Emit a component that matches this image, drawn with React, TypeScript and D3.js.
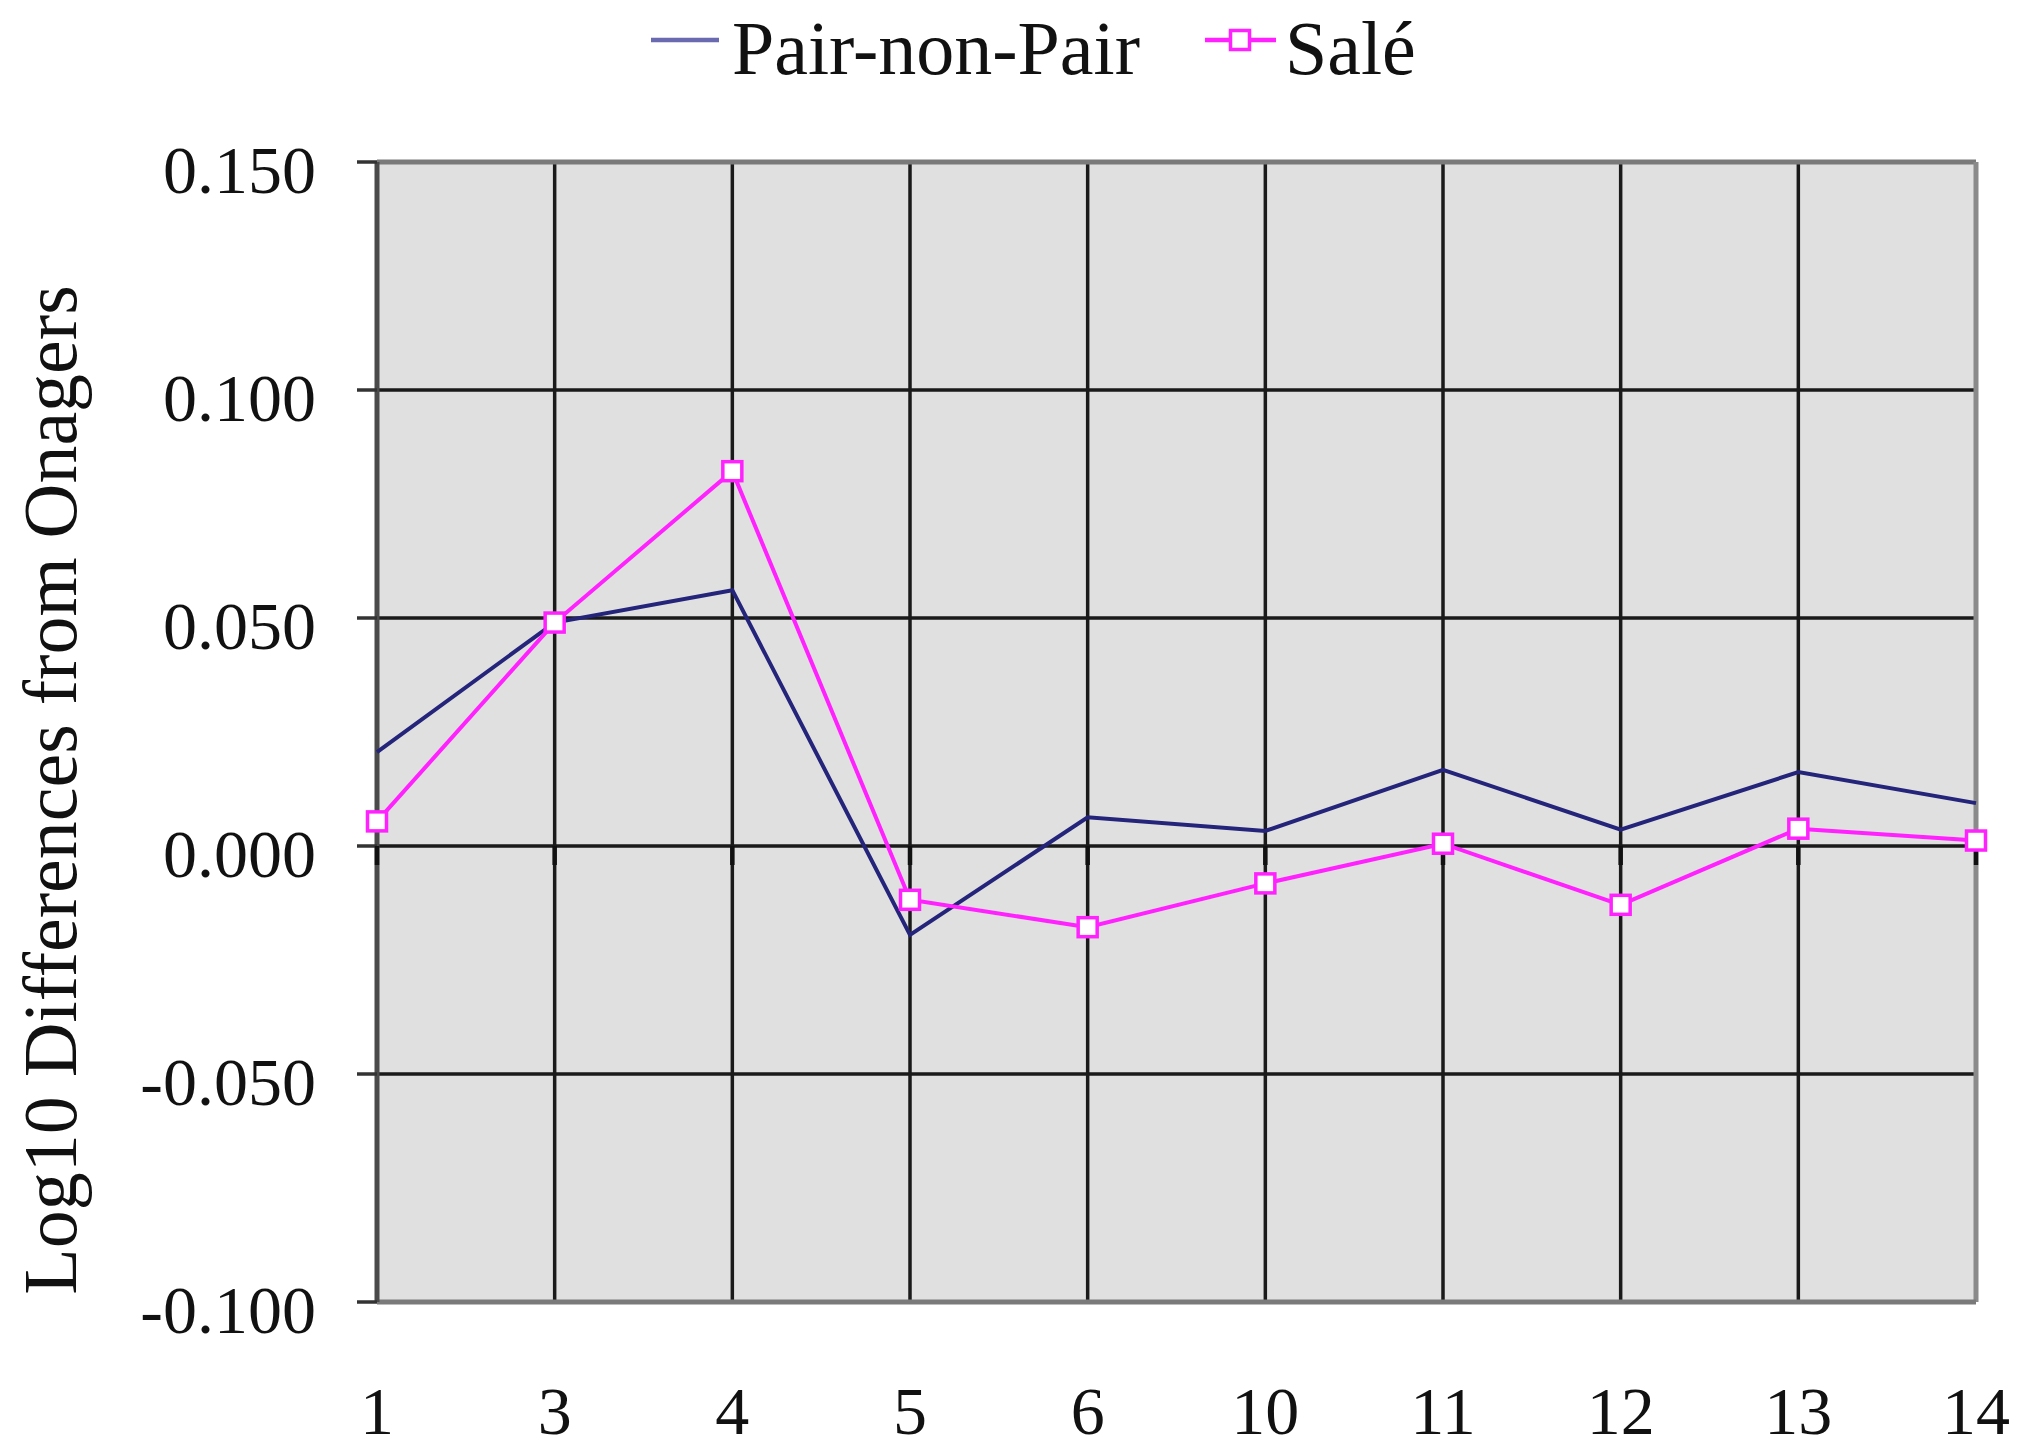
import React from "react";
import * as d3 from "d3";

const categories = ["1", "3", "4", "5", "6", "10", "11", "12", "13", "14"];
const pairNonPair = [0.0206, 0.0490, 0.0561, -0.0195, 0.0063, 0.0033, 0.0167, 0.0036, 0.0162, 0.0094];
const sale = [0.0054, 0.0490, 0.0822, -0.0118, -0.0178, -0.0082, 0.0005, -0.0129, 0.0038, 0.0012];
const yTicks = [-0.1, -0.05, 0, 0.05, 0.1, 0.15];
const seriesNames = ["Pair-non-Pair", "Salé"];

const W = 2031;
const H = 1455;
const left = 377;
const right = 1976;
const top = 162;
const bottom = 1302;
const font = "'Liberation Serif', 'Times New Roman', serif";
const navy = "#24247a";
const magenta = "#ff22ff";

export default function App() {
  const x = d3.scalePoint<string>().domain(categories).range([left, right]);
  const y = d3.scaleLinear().domain([-0.1, 0.15]).range([bottom, top]);
  const line = d3
    .line<number>()
    .x((_, i) => x(categories[i]) as number)
    .y((d) => y(d));
  const fmt = (v: number) => d3.format(".3f")(v).replace("\u2212", "-");
  const sq = 19;

  return (
    <svg
      width={W}
      height={H}
      style={{ position: "absolute", left: 0, top: 0, display: "block", background: "#fff" }}
    >
      <rect x={left} y={top} width={right - left} height={bottom - top} fill="#e0e0e0" />
      {yTicks.map((t) => (
        <line key={"h" + t} x1={left} x2={right} y1={y(t)} y2={y(t)} stroke="#1a1a1a" strokeWidth={3.5} />
      ))}
      {categories.map((c) => (
        <line key={"v" + c} x1={x(c)} x2={x(c)} y1={top} y2={bottom} stroke="#1a1a1a" strokeWidth={3.5} />
      ))}
      <line x1={left} x2={right} y1={top} y2={top} stroke="#7a7a7a" strokeWidth={5} />
      <line x1={right} x2={right} y1={top} y2={bottom} stroke="#8a8a8a" strokeWidth={5} />
      <line x1={left} x2={right} y1={bottom} y2={bottom} stroke="#7a7a7a" strokeWidth={5} />
      <line x1={left} x2={left} y1={top} y2={bottom} stroke="#4a4a4a" strokeWidth={5} />
      {yTicks.map((t) => (
        <line key={"yt" + t} x1={left - 20} x2={left} y1={y(t)} y2={y(t)} stroke="#333" strokeWidth={3.5} />
      ))}
      {categories.map((c) => (
        <line key={"xt" + c} x1={x(c)} x2={x(c)} y1={y(0)} y2={y(0) + 19} stroke="#111" strokeWidth={4.5} />
      ))}
      {yTicks.map((t) => (
        <text
          key={"yl" + t}
          x={316}
          y={y(t) + 31}
          textAnchor="end"
          fontFamily={font}
          fontSize={68}
          fill="#111"
        >
          {fmt(t)}
        </text>
      ))}
      {categories.map((c) => (
        <text key={"xl" + c} x={x(c)} y={1434} textAnchor="middle" fontFamily={font} fontSize={68} fill="#111">
          {c}
        </text>
      ))}
      <text
        transform={`translate(76, 790) rotate(-90)`}
        textAnchor="middle"
        fontFamily={font}
        fontSize={76}
        fill="#111"
      >
        Log10 Differences from Onagers
      </text>
      <path d={line(pairNonPair) || ""} fill="none" stroke={navy} strokeWidth={4} />
      <path d={line(sale) || ""} fill="none" stroke={magenta} strokeWidth={4} />
      {sale.map((v, i) => (
        <rect
          key={"m" + i}
          x={(x(categories[i]) as number) - sq / 2}
          y={y(v) - sq / 2}
          width={sq}
          height={sq}
          fill="#fff"
          stroke={magenta}
          strokeWidth={3.5}
        />
      ))}
      <line x1={651} x2={719} y1={40} y2={40} stroke="#6a6ab0" strokeWidth={4.5} />
      <text x={732} y={74} fontFamily={font} fontSize={76} fill="#111">
        {seriesNames[0]}
      </text>
      <line x1={1205} x2={1276} y1={40} y2={40} stroke={magenta} strokeWidth={4.5} />
      <rect x={1240 - sq / 2} y={40 - sq / 2} width={sq} height={sq} fill="#fff" stroke={magenta} strokeWidth={3.5} />
      <text x={1285} y={74} fontFamily={font} fontSize={76} fill="#111">
        {seriesNames[1]}
      </text>
    </svg>
  );
}
